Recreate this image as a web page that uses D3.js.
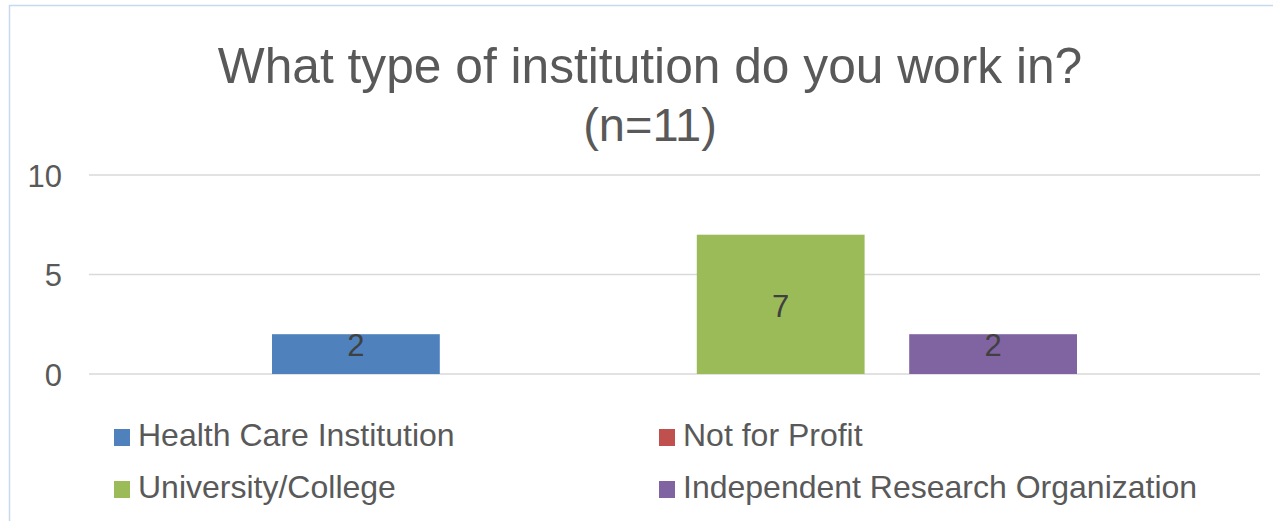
<!DOCTYPE html>
<html>
<head>
<meta charset="utf-8">
<script src="https://cdn.jsdelivr.net/npm/d3@7"></script>
<style>
    body { margin: 0; background: #fff; }
    svg { display: block; font-family: "Liberation Sans", Arial, sans-serif; }
</style>
</head>
<body>
<div class="chart"></div>
<script>
// данные
const series = ['Health Care Institution', 'Not for Profit', 'University/College', 'Independent Research Organization']
const values = [2, 0, 7, 2]
const colors = ['#4f81bd', '#c0504d', '#9bbb59', '#8064a2']
const yTicks = [0, 5, 10]
const titleLines = ['What type of institution do you work in?', '(n=11)']

const width = 1273,
    height = 521
const plot = { left: 89, right: 1260, top: 175, bottom: 374 }

const svg = d3.select('.chart').append('svg')
    .attr('width', width)
    .attr('height', height)

// рамка
svg.append('rect')
    .attr('x', 9.5)
    .attr('y', 5.5)
    .attr('width', width + 20)
    .attr('height', height + 20)
    .style('fill', 'none')
    .style('stroke', '#c6d9f0')
    .style('stroke-width', 1.5)

svg.append('text')
    .style('text-anchor', 'middle')
    .style('fill', '#595959')
    .selectAll('tspan')
    .data(titleLines)
    .enter().append('tspan')
    .attr('x', 650)
    .attr('y', (d, i) => i === 0 ? 83 : 141)
    .style('font-size', (d, i) => i === 0 ? '49.7px' : '47px')
    .text(d => d)

const y = d3.scaleLinear()
    .domain([0, 10])
    .range([plot.bottom, plot.top])

const x = d3.scaleBand()
    .domain(series)
    .range([272, 1077])
    .paddingInner(0.21)

// сетка
svg.append('g')
    .selectAll('line')
    .data(yTicks)
    .enter().append('line')
    .attr('x1', plot.left)
    .attr('x2', plot.right)
    .attr('y1', d => y(d))
    .attr('y2', d => y(d))
    .style('stroke', '#d9d9d9')
    .style('stroke-width', 1.5)

const yAxis = svg.append('g')
    .attr('transform', 'translate(62,0)')
    .call(d3.axisLeft(y).tickValues(yTicks).tickSize(0).tickPadding(0))
yAxis.select('.domain').remove()
yAxis.selectAll('text')
    .attr('dy', null)
    .attr('y', 11)
    .style('font-size', '31px')
    .style('fill', '#595959')
    .style('font-family', '"Liberation Sans", Arial, sans-serif')

const bars = svg.append('g')
    .selectAll('.bar')
    .data(series.map((s, i) => ({ name: s, value: values[i], color: colors[i] })))
    .enter().append('g')
    .attr('class', 'bar')

bars.append('rect')
    .attr('x', d => x(d.name))
    .attr('width', x.bandwidth())
    .attr('y', d => y(d.value))
    .attr('height', d => y(0) - y(d.value))
    .style('fill', d => d.color)

// подпись в центре, для низких столбцов — у верхнего края
bars.filter(d => d.value !== 0).append('text')
    .attr('x', d => x(d.name) + x.bandwidth() / 2)
    .attr('y', d => {
        const h = y(0) - y(d.value)
        return h < 60 ? y(d.value) + 22 : (y(d.value) + y(0)) / 2 + 13
    })
    .style('text-anchor', 'middle')
    .style('font-size', '31px')
    .style('fill', '#404040')
    .text(d => d.value)

// легенда
const legend = svg.append('g')
    .selectAll('.legenda')
    .data(series)
    .enter().append('g')
    .attr('class', 'legenda')
    .attr('transform', (d, i) => 'translate(' + (i % 2 === 0 ? 114 : 659) + ',' + (446 + Math.floor(i / 2) * 52) + ')')

legend.append('rect')
    .attr('x', 0)
    .attr('y', -17)
    .attr('width', 16)
    .attr('height', 17)
    .style('fill', (d, i) => colors[i])

legend.append('text')
    .attr('x', 24)
    .attr('y', 0)
    .style('font-size', '32px')
    .style('fill', '#595959')
    .text(d => d)
</script>
</body>
</html>
